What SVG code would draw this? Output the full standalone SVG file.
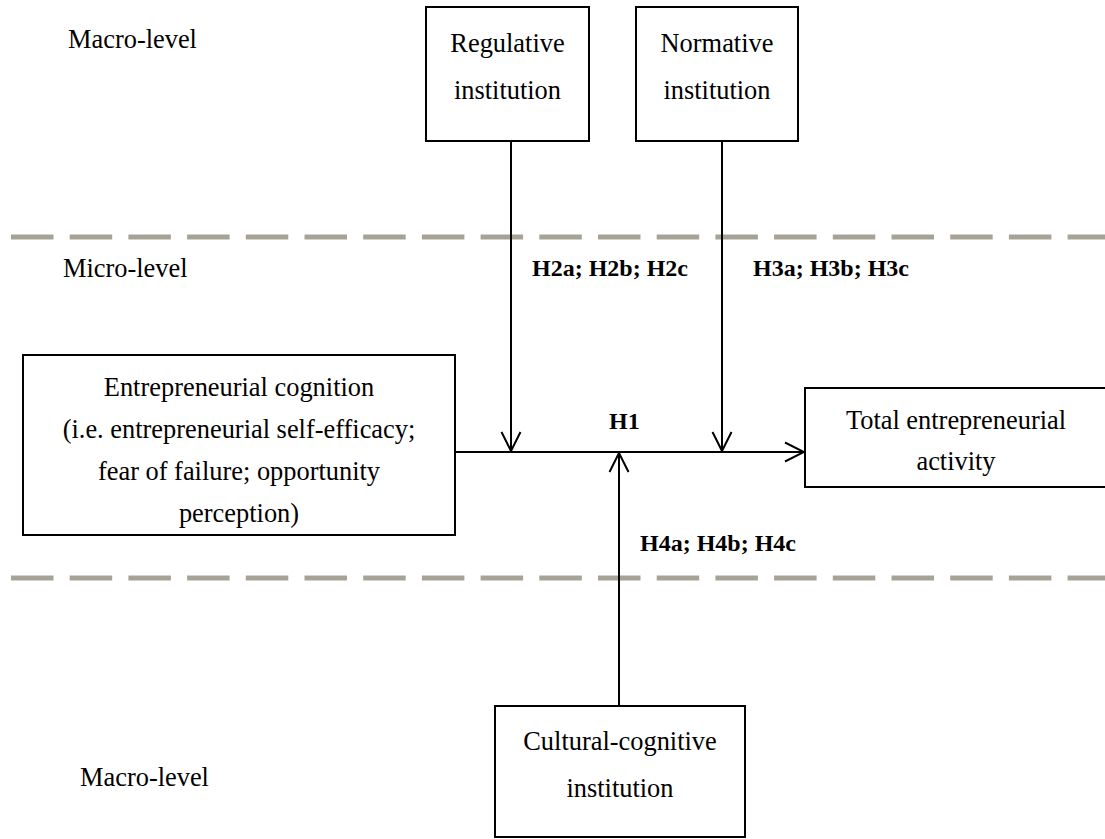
<svg xmlns="http://www.w3.org/2000/svg" width="1105" height="839" viewBox="0 0 1105 839">
<style>
.box{fill:#fff;stroke:#000;stroke-width:2}
.t{font-family:"Liberation Serif","Times New Roman",serif;font-size:26.4px;fill:#000}
.c{text-anchor:middle}
.b{font-family:"Liberation Serif","Times New Roman",serif;font-size:24px;font-weight:bold;fill:#000}
.dash{stroke:#a6a396;stroke-width:5;stroke-dasharray:42.5 16.2;fill:none}
.con{stroke:#000;stroke-width:2;fill:none;marker-end:url(#arr)}
</style>
<defs>
<marker id="arr" viewBox="0 0 22 22" refX="20" refY="11" markerWidth="22" markerHeight="22" markerUnits="userSpaceOnUse" orient="auto">
<path d="M1,1.5 L20,11 L1,20.5" fill="none" stroke="#000" stroke-width="2"/>
</marker>
</defs>
<rect width="1105" height="839" fill="#fff"/>
<g id="levels">
<line class="dash" x1="11" y1="237" x2="1105" y2="237"/>
<line class="dash" x1="11" y1="578" x2="1105" y2="578"/>
<text class="t" x="68" y="48">Macro-level</text>
<text class="t" x="63" y="277">Micro-level</text>
<text class="t" x="80" y="786">Macro-level</text>
</g>
<g id="connectors">
<line class="con" x1="511" y1="141" x2="511" y2="451"/>
<line class="con" x1="722" y1="141" x2="722" y2="451"/>
<line class="con" x1="455" y1="452" x2="804" y2="452"/>
<line class="con" x1="619" y1="706" x2="619" y2="453"/>
<text class="b" x="532" y="276">H2a; H2b; H2c</text>
<text class="b" x="753" y="276">H3a; H3b; H3c</text>
<text class="b" x="609" y="429">H1</text>
<text class="b" x="640" y="551">H4a; H4b; H4c</text>
</g>
<g id="regulative">
<rect class="box" x="426" y="7" width="163" height="134"/>
<text class="t c" x="507.5" y="52">Regulative</text>
<text class="t c" x="507.5" y="99">institution</text>
</g>
<g id="normative">
<rect class="box" x="636" y="7" width="162" height="134"/>
<text class="t c" x="717" y="52">Normative</text>
<text class="t c" x="717" y="99">institution</text>
</g>
<g id="cognition">
<rect class="box" x="23" y="355" width="432" height="180"/>
<text class="t c" x="239" y="396">Entrepreneurial cognition</text>
<text class="t c" x="239" y="438">(i.e. entrepreneurial self-efficacy;</text>
<text class="t c" x="239" y="480">fear of failure; opportunity</text>
<text class="t c" x="239" y="522">perception)</text>
</g>
<g id="tea">
<rect class="box" x="805" y="388" width="310" height="99"/>
<text class="t c" x="956" y="429">Total entrepreneurial</text>
<text class="t c" x="956" y="470">activity</text>
</g>
<g id="cultural">
<rect class="box" x="495" y="706" width="250" height="131"/>
<text class="t c" x="620" y="750">Cultural-cognitive</text>
<text class="t c" x="620" y="797">institution</text>
</g>
</svg>
